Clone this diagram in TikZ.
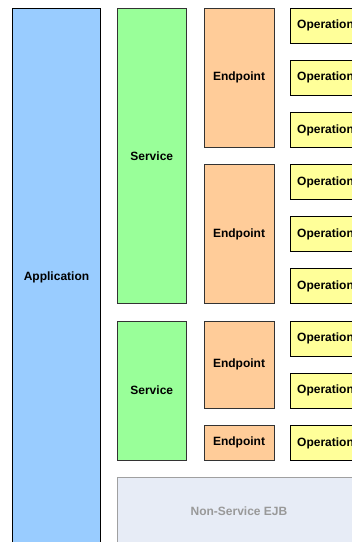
\documentclass[tikz,border=0pt]{standalone}
\usepackage{fontspec}
\setmainfont{Liberation Sans}
\definecolor{appc}{HTML}{99CCFF}
\definecolor{svcc}{HTML}{99FF99}
\definecolor{epc}{HTML}{FFCC99}
\definecolor{opc}{HTML}{FFFF99}
\definecolor{nsc}{HTML}{E7ECF6}
\definecolor{nsb}{HTML}{A0A0A0}
\definecolor{nst}{HTML}{999999}
\definecolor{bord}{HTML}{333333}
\begin{document}
\begin{tikzpicture}[x=1pt,y=-1pt,
  box/.style={draw=bord,line width=1pt,inner sep=0pt,anchor=north west,
    font=\fontsize{12}{14}\selectfont\bfseries,text=black},
  appbox/.style={box,draw=black,fill=appc,minimum width=88pt},
  svcbox/.style={box,fill=svcc,minimum width=69.5pt},
  epbox/.style={box,fill=epc,minimum width=70pt},
  opbox/.style={box,draw=black,fill=opc,minimum width=70pt,minimum height=35pt},
  nsbox/.style={box,draw=nsb,fill=nsc,minimum width=244pt,text=nst}]
\useasboundingbox (0,0) rectangle (352,542);
\clip (0,0) rectangle (352,542);
\node[appbox,minimum height=539pt] (app) at (12,7.7) {Application};
\node[svcbox,minimum height=295.3pt] (s1) at (116.5,7.7) {Service};
\node[svcbox,minimum height=139pt] (s2) at (116.5,320.7) {Service};
\node[epbox,minimum height=139pt] (e1) at (203.5,7.7) {Endpoint};
\node[epbox,minimum height=139pt] (e2) at (203.5,164) {Endpoint};
\node[epbox,minimum height=87pt] (e3) at (203.5,320.7) {Endpoint};
\node[epbox,minimum height=34.7pt] (e4) at (203.5,425) {Endpoint};
\foreach \i/\y in {1/7.7,2/59.7,3/112,4/164,5/216,6/268,7/320.7,8/372.7,9/425}
  \node[opbox,minimum height=34.8pt] (o\i) at (290,\y) {Operation};
\node[nsbox,minimum height=69pt] (ns) at (116.5,476.7) {Non-Service EJB};
\end{tikzpicture}
\end{document}
